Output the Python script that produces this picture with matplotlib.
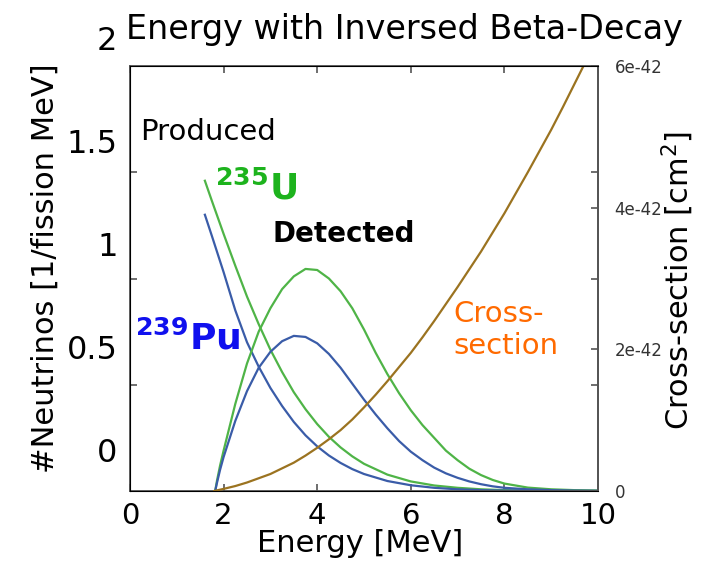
import matplotlib
matplotlib.use("Agg")
import matplotlib.pyplot as plt
import numpy as np

# produced spectra (per fission per MeV)
e_prod = [1.6, 1.75, 2.0, 2.25, 2.5, 2.75, 3.0, 3.25, 3.5, 3.75, 4.0, 4.25, 4.5, 4.75,
          5.0, 5.5, 6.0, 6.5, 7.0, 7.5, 8.0, 9.0, 10.0]
u235_prod = [1.46, 1.365, 1.21, 1.06, 0.915, 0.785, 0.665, 0.56, 0.465, 0.385, 0.315, 0.255, 0.205, 0.163,
             0.128, 0.077, 0.045, 0.026, 0.015, 0.008, 0.004, 0.001, 0.0]
pu239_prod = [1.30, 1.20, 1.03, 0.85, 0.70, 0.585, 0.485, 0.40, 0.325, 0.262, 0.21, 0.167, 0.132, 0.103,
              0.08, 0.047, 0.027, 0.015, 0.008, 0.004, 0.002, 0.0005, 0.0]

# detected spectra (flux x cross-section, arbitrary scale)
e_det = [1.82, 1.86, 1.925, 2.0, 2.25, 2.5, 2.75, 3.0, 3.25, 3.5, 3.75, 4.0, 4.25, 4.5, 4.75, 5.0,
         5.25, 5.5, 5.75, 6.0, 6.25, 6.5, 6.75, 7.0, 7.25, 7.5, 7.75, 8.0, 8.5, 9.0, 9.5, 10.0]
u235_det = [0.0, 0.05, 0.12, 0.19, 0.41, 0.60, 0.75, 0.86, 0.95, 1.01, 1.045, 1.04, 1.0, 0.94, 0.86, 0.76,
            0.65, 0.55, 0.46, 0.38, 0.31, 0.25, 0.19, 0.145, 0.105, 0.075, 0.052, 0.035, 0.016, 0.008, 0.004, 0.002]
pu239_det = [0.0, 0.04, 0.10, 0.16, 0.33, 0.47, 0.58, 0.655, 0.705, 0.73, 0.725, 0.695, 0.645, 0.58, 0.505, 0.43,
             0.36, 0.295, 0.235, 0.185, 0.145, 0.11, 0.083, 0.062, 0.045, 0.032, 0.022, 0.015, 0.008, 0.004, 0.002, 0.001]

# inverse beta decay cross-section [1e-42 cm^2]
e_xs = [1.8, 2.0, 2.25, 2.5, 2.75, 3.0, 3.25, 3.5, 3.75, 4.0, 4.25, 4.5, 4.75, 5.0, 5.25, 5.5, 5.75,
        6.0, 6.25, 6.5, 6.75, 7.0, 7.25, 7.5, 7.75, 8.0, 8.25, 8.5, 8.75, 9.0, 9.25, 9.5, 9.75]
xs = [0.0, 0.03, 0.07, 0.12, 0.18, 0.24, 0.32, 0.40, 0.50, 0.61, 0.73, 0.86, 1.01, 1.18, 1.36, 1.55, 1.75,
      1.95, 2.17, 2.40, 2.64, 2.88, 3.13, 3.38, 3.65, 3.92, 4.21, 4.50, 4.80, 5.10, 5.42, 5.75, 6.08]

x_ticks = [0, 2, 4, 6, 8, 10]
y_ticks = [0, 0.5, 1, 1.5, 2]
y_ticklabels = ['0', '0.5', '1', '1.5', '2']
xs_ticks = [0, 2, 4, 6]
xs_ticklabels = ['0', '2e-42', '4e-42', '6e-42']

green = '#4fb447'
blue = '#3a5ca8'
brown = '#9b7320'
spine = '#555555'

W, H = 709, 562
fig = plt.figure(figsize=(W / 100, H / 100), dpi=100)

left, right, bottom, top = 130, 598, 491, 66
ax = fig.add_axes([left / W, 1 - bottom / H, (right - left) / W, (bottom - top) / H])
ax.plot(e_prod, u235_prod, color=green, lw=1.6)
ax.plot(e_prod, pu239_prod, color=blue, lw=1.6)
ax.plot(e_det, u235_det, color=green, lw=1.6)
ax.plot(e_det, pu239_det, color=blue, lw=1.6)
ax.set_xlim(0, 10)
ax.set_ylim(0, 2)
ax.set_xticks(x_ticks)
ax.set_xticklabels([str(t) for t in x_ticks], fontsize=21)
ax.set_yticks([0.5, 1, 1.5])
ax.tick_params(axis='x', direction='in', length=5, width=1.2, color=spine, top=True, pad=8)
ax.tick_params(axis='y', direction='in', length=5, width=1.2, color=spine, labelleft=False)
for s in ax.spines.values():
    s.set_color(spine)
    s.set_linewidth(1.3)

# cross-section on the right axis
ax2 = ax.twinx()
ax2.plot(e_xs, xs, color=brown, lw=1.6)
ax2.set_ylim(0, 6)
ax2.set_yticks(xs_ticks)
ax2.set_yticklabels(xs_ticklabels, fontsize=12, color='#333333')
ax2.set_yticks([1.5, 3, 4.5], minor=True)
ax2.tick_params(axis='y', which='both', direction='in', length=5, width=1.2, color=spine, pad=12)
ax2.spines['right'].set_color(spine)
ax2.spines['right'].set_linewidth(1.3)

# large left scale
lab_top = 30
lab = fig.add_axes([left / W, 1 - bottom / H, (right - left) / W, (bottom - lab_top) / H])
lab.patch.set_visible(False)
for s in lab.spines.values():
    s.set_visible(False)
lab.set_ylim(-0.2, 2.039)
lab.set_yticks(y_ticks)
lab.set_yticklabels(y_ticklabels, fontsize=23)
lab.tick_params(axis='y', length=0, pad=9)
lab.set_xticks([])

fig.text(404 / W, 1 - 30 / H, 'Energy with Inversed Beta-Decay', fontsize=24, ha='center', va='center')
fig.text(360 / W, 1 - 543 / H, 'Energy [MeV]', fontsize=22, ha='center', va='center')
fig.text(45 / W, 1 - 268 / H, '#Neutrinos [1/fission MeV]', fontsize=22, rotation=90, ha='center', va='center')
fig.text(678 / W, 1 - 280 / H, 'Cross-section [cm$^2$]', fontsize=22, rotation=90, ha='center', va='center')

ax.text(0.21, 1.69, 'Produced', fontsize=21, va='center', ha='left')
ax.text(1.82, 1.37, r'$\mathbf{^{235}U}$', fontsize=26, color='#1db31d', va='baseline', ha='left')
ax.text(3.04, 1.21, 'Detected', fontsize=20, fontweight='bold', va='center', ha='left')
ax.text(0.1, 0.664, r'$\mathbf{^{239}Pu}$', fontsize=26, color='#1010ee', va='baseline', ha='left')
ax.text(6.91, 0.90, 'Cross-\nsection', fontsize=21, color='#ff6a00', va='top', ha='left')

fig.savefig('out.png', dpi=100)
